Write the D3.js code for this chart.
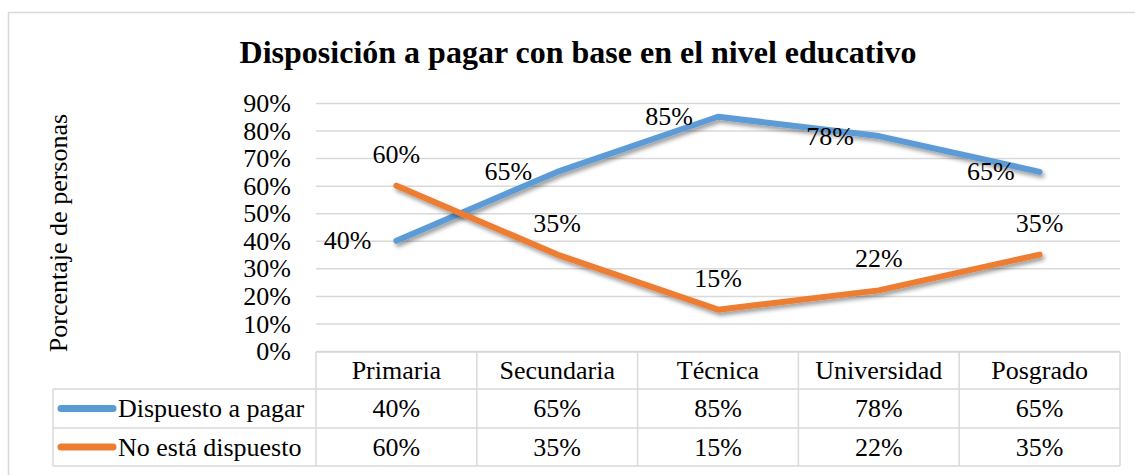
<!DOCTYPE html>
<html>
<head>
<meta charset="utf-8">
<script src="https://cdn.jsdelivr.net/npm/d3@7"></script>
<style>
  body { margin: 0; background: #fff; }
  text { font-family: "Liberation Serif", "Times New Roman", Times, "DejaVu Serif", serif; fill: #000; }
</style>
</head>
<body>
<svg></svg>
<script>
// data
const CATEGORIES = ['Primaria', 'Secundaria', 'Técnica', 'Universidad', 'Posgrado'];
const DISPUESTO = [0.40, 0.65, 0.85, 0.78, 0.65];
const NO_DISPUESTO = [0.60, 0.35, 0.15, 0.22, 0.35];
const SERIES_NAMES = ['Dispuesto a pagar', 'No está dispuesto'];
const Y_TICKS = [0, 0.1, 0.2, 0.3, 0.4, 0.5, 0.6, 0.7, 0.8, 0.9];

const W = 1135, H = 475;
const SVG = d3.select('svg').attr('width', W).attr('height', H);

const GRID = '#d9d9d9';
const BLUE = '#5b9bd5';
const ORANGE = '#ed7d31';
const FONT = '"Liberation Serif", "Times New Roman", Times, "DejaVu Serif", serif';

// shadow for the lines
const defs = SVG.append('defs');
defs.append('filter').attr('id', 'shadow')
  .attr('x', '-10%').attr('y', '-20%').attr('width', '120%').attr('height', '140%')
  .append('feDropShadow')
  .attr('dx', 2).attr('dy', 3).attr('stdDeviation', 2)
  .attr('flood-color', '#000').attr('flood-opacity', 0.4);

// chart border
SVG.append('rect')
  .attr('x', 8.5).attr('y', 12.5).attr('width', 1140).attr('height', 480)
  .attr('fill', 'none').attr('stroke', GRID).attr('stroke-width', 1.5);

// scales
const plotLeft = 316, plotRight = 1120, plotTop = 103, plotBottom = 351;
const x = d3.scaleBand().domain(CATEGORIES).range([plotLeft, plotRight]);
const cx = c => x(c) + x.bandwidth() / 2;
const y = d3.scaleLinear().domain([0, 0.9]).range([plotBottom, plotTop]);

// title
SVG.append('text')
  .attr('x', 578).attr('y', 63)
  .attr('text-anchor', 'middle')
  .style('font-size', '32px').style('font-weight', 'bold')
  .text('Disposición a pagar con base en el nivel educativo');

// y axis title
SVG.append('text')
  .attr('transform', 'translate(67,233) rotate(-90)')
  .attr('text-anchor', 'middle')
  .style('font-size', '26px')
  .text('Porcentaje de personas');

// y axis + gridlines
const yAxis = d3.axisLeft(y)
  .tickValues(Y_TICKS)
  .tickFormat(d3.format('.0%'))
  .tickSizeInner(-(plotRight - plotLeft))
  .tickSizeOuter(0)
  .tickPadding(25);
const yAxisG = SVG.append('g').attr('transform', `translate(${plotLeft},0)`).call(yAxis);
yAxisG.attr('font-family', null).attr('font-size', null);
yAxisG.select('.domain').remove();
yAxisG.selectAll('.tick line').attr('stroke', GRID).attr('stroke-width', 1.5);
yAxisG.selectAll('.tick text')
  .style('font-family', FONT)
  .style('font-size', '26px').attr('fill', '#000')
  .attr('dy', '0.33em');

// lines
const line = d3.line()
  .x((d, i) => cx(CATEGORIES[i]))
  .y(d => y(d));

const series = [
  { name: SERIES_NAMES[0], values: DISPUESTO, color: BLUE },
  { name: SERIES_NAMES[1], values: NO_DISPUESTO, color: ORANGE }
];

SVG.selectAll('path.series')
  .data(series)
  .join('path')
  .attr('class', 'series')
  .attr('d', d => line(d.values))
  .attr('fill', 'none')
  .attr('stroke', d => d.color)
  .attr('stroke-width', 6)
  .attr('stroke-linecap', 'round')
  .attr('stroke-linejoin', 'round')
  .attr('filter', 'url(#shadow)');

// data labels: blue to the left, orange above
SVG.append('g').selectAll('text')
  .data(DISPUESTO)
  .join('text')
  .attr('x', (d, i) => cx(CATEGORIES[i]) - 25)
  .attr('y', d => y(d))
  .attr('dy', '0.33em')
  .attr('text-anchor', 'end')
  .style('font-size', '26px')
  .text(d => d3.format('.0%')(d));

SVG.append('g').selectAll('text')
  .data(NO_DISPUESTO)
  .join('text')
  .attr('x', (d, i) => cx(CATEGORIES[i]))
  .attr('y', d => y(d) - 23)
  .attr('text-anchor', 'middle')
  .style('font-size', '26px')
  .text(d => d3.format('.0%')(d));

// data table
const legendLeft = 53;
const rowTops = [352, 389, 428, 466];
const tbl = SVG.append('g');
const rowMid = i => (rowTops[i] + rowTops[i + 1]) / 2;

// horizontal table lines
tbl.append('line').attr('x1', plotLeft).attr('x2', plotRight)
  .attr('y1', rowTops[0]).attr('y2', rowTops[0]);
[1, 2, 3].forEach(i => {
  tbl.append('line').attr('x1', legendLeft).attr('x2', plotRight)
    .attr('y1', rowTops[i]).attr('y2', rowTops[i]);
});
// vertical table lines
tbl.append('line').attr('x1', legendLeft).attr('x2', legendLeft)
  .attr('y1', rowTops[1]).attr('y2', rowTops[3]);
CATEGORIES.forEach(c => {
  tbl.append('line').attr('x1', x(c)).attr('x2', x(c))
    .attr('y1', rowTops[0]).attr('y2', rowTops[3]);
});
tbl.append('line').attr('x1', plotRight).attr('x2', plotRight)
  .attr('y1', rowTops[0]).attr('y2', rowTops[3]);
tbl.selectAll('line').attr('stroke', GRID).attr('stroke-width', 1.5);

// header
tbl.selectAll('text.head')
  .data(CATEGORIES)
  .join('text')
  .attr('class', 'head')
  .attr('x', d => cx(d))
  .attr('y', rowMid(0))
  .attr('dy', '0.33em')
  .attr('text-anchor', 'middle')
  .style('font-size', '26px')
  .text(d => d);

series.forEach((s, r) => {
  tbl.append('line')
    .attr('x1', 61).attr('x2', 113)
    .attr('y1', rowMid(r + 1)).attr('y2', rowMid(r + 1))
    .attr('stroke', s.color).attr('stroke-width', 7)
    .attr('stroke-linecap', 'round');
  tbl.append('text')
    .attr('x', 118).attr('y', rowMid(r + 1))
    .attr('dy', '0.33em')
    .style('font-size', '26px')
    .text(s.name);
  tbl.append('g').selectAll('text')
    .data(s.values)
    .join('text')
    .attr('x', (d, i) => cx(CATEGORIES[i]))
    .attr('y', rowMid(r + 1))
    .attr('dy', '0.33em')
    .attr('text-anchor', 'middle')
    .style('font-size', '26px')
    .text(d => d3.format('.0%')(d));
});
</script>
</body>
</html>
